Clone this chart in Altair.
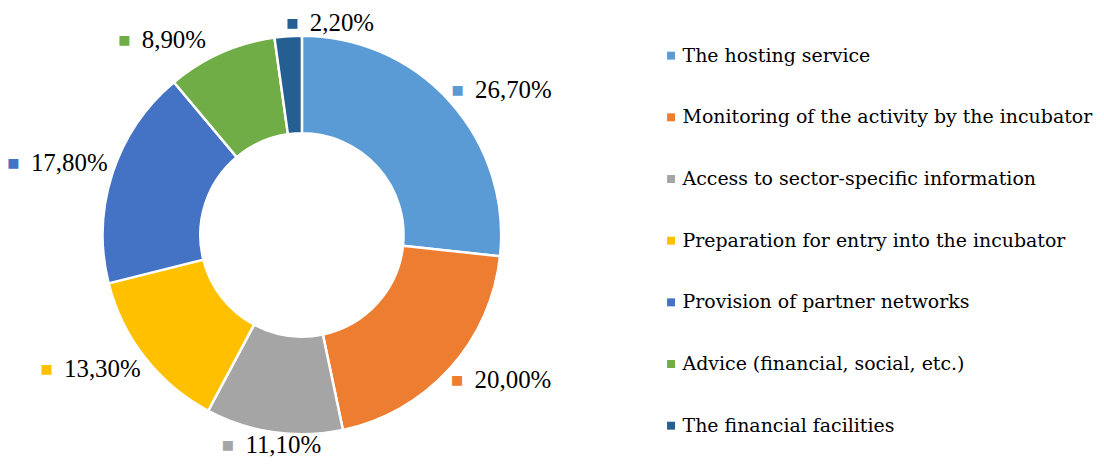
import math
import altair as alt
import pandas as pd

# ---- data ----
categories = [
    "The hosting service",
    "Monitoring of the activity by the incubator",
    "Access to sector-specific information",
    "Preparation for entry into the incubator",
    "Provision of partner networks",
    "Advice (financial, social, etc.)",
    "The financial facilities",
]
shares = [26.7, 20.0, 11.1, 13.3, 17.8, 8.9, 2.2]
share_labels = ["26,70%", "20,00%", "11,10%", "13,30%", "17,80%", "8,90%", "2,20%"]
colors = ["#5B9BD5", "#ED7D31", "#A5A5A5", "#FFC000", "#4472C4", "#70AD47", "#255E91"]

# ---- styling / layout ----
OUTER, INNER = 200, 102
LABEL_GAP, HALF_W, HALF_H = 4, 50, 9
W, H = 590, 438

total = sum(shares)
rows = []
cum = 0.0
for cat, v, lab in zip(categories, shares, share_labels):
    start, end = cum, cum + v
    cum = end
    a = 2 * math.pi * ((start + end) / 2) / total
    ux, uy = math.sin(a), -math.cos(a)
    s = math.sin(a)
    sx = 1 if s > -0.1 else (-1 if s < -0.3 else 0)
    sy = -1 if math.cos(a) > 0 else 1
    cx = ux * (OUTER + LABEL_GAP) + sx * HALF_W
    cy = uy * (OUTER + LABEL_GAP) + sy * HALF_H
    la = math.atan2(cx, -cy) % (2 * math.pi)
    rows.append(dict(category=cat, value=v, start=start, end=end, label=lab,
                     ltheta=la / (2 * math.pi) * total, lradius=math.hypot(cx, cy)))
df = pd.DataFrame(rows)

color_scale = alt.Scale(domain=categories, range=colors)
theta_scale = alt.Scale(domain=[0, total])

base = alt.Chart(df)

arcs = base.mark_arc(outerRadius=OUTER, innerRadius=INNER, stroke="white", strokeWidth=2.5).encode(
    theta=alt.Theta("start:Q", stack=None, scale=theta_scale),
    theta2="end:Q",
    color=alt.Color(
        "category:N", scale=color_scale, sort=categories,
        legend=alt.Legend(
            title=None, orient="none", legendX=656, legendY=29.5,
            symbolType="square", symbolSize=64, symbolStrokeWidth=0,
            labelFont="DejaVu Serif", labelFontSize=19, labelColor="#000000",
            labelOffset=2, rowPadding=41.9, labelLimit=0, padding=0,
        ),
    ),
)

markers = base.mark_text(text="■", font="DejaVu Sans", fontSize=13, dx=-45.5,
                         align="center", baseline="middle").encode(
    theta=alt.Theta("ltheta:Q", stack=None, scale=theta_scale),
    radius=alt.Radius("lradius:Q", scale=None),
    color=alt.Color("category:N", scale=color_scale, legend=None),
)

numbers = base.mark_text(font="Liberation Serif", fontSize=25, dx=-28, align="left",
                         baseline="middle", color="#000000").encode(
    theta=alt.Theta("ltheta:Q", stack=None, scale=theta_scale),
    radius=alt.Radius("lradius:Q", scale=None),
    text="label:N",
)

chart = alt.layer(arcs, markers, numbers).properties(
    width=W, height=H,
    autosize=alt.AutoSizeParams(type="none"),
    padding={"left": 0, "top": 8, "right": 502, "bottom": 4},
    background="white",
).configure_view(stroke=None)

chart.save("out.html", embed_options={"renderer": "svg", "actions": False})
